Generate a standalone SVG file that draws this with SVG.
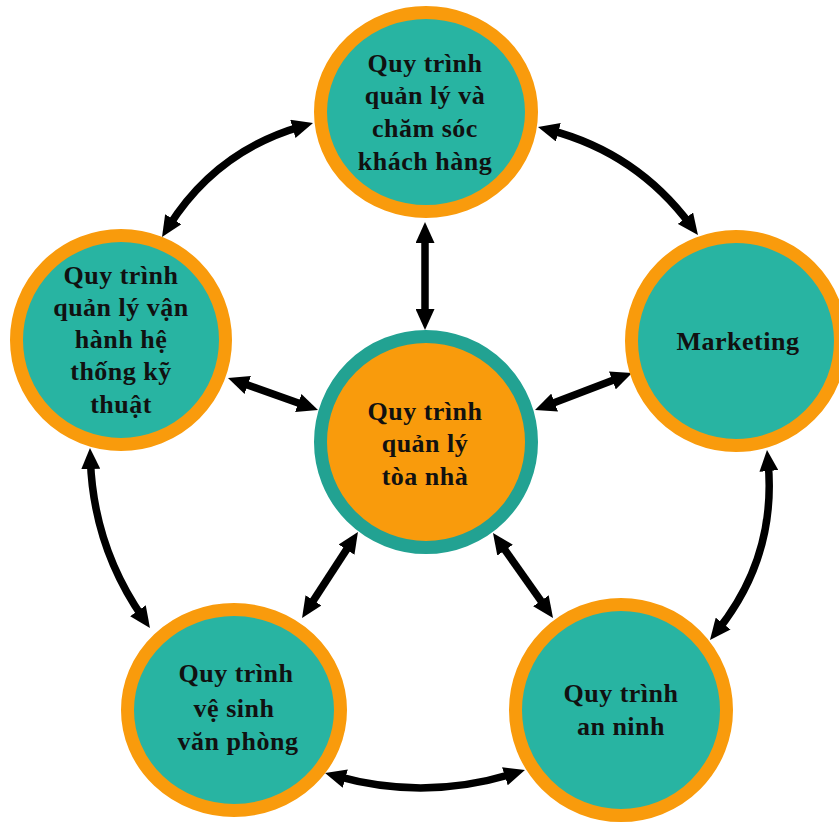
<svg xmlns="http://www.w3.org/2000/svg" width="839" height="822" viewBox="0 0 839 822">
<style>
.node{fill:#28b4a2;stroke:#f99b0c;stroke-width:13}
.hub{fill:#f99b0c;stroke:#22a292;stroke-width:13}
.lbl{font-family:"Liberation Serif","Times New Roman",serif;font-weight:bold;font-size:26px;letter-spacing:0.5px;fill:#111;text-anchor:middle}
.arr{fill:none;stroke:#000;stroke-width:7.5;marker-start:url(#ah);marker-end:url(#ah)}
</style>
<defs>
<marker id="ah" viewBox="0 0 21 19" markerWidth="21" markerHeight="19" refX="9" refY="9.5" orient="auto-start-reverse" markerUnits="userSpaceOnUse">
<path d="M0,0 L21,9.5 L0,19 z" fill="#000"/>
</marker>
</defs>
<rect width="839" height="822" fill="#fff"/>
<g id="connectors">
<path class="arr" d="M301.5,126.3 Q216,151 168.4,226.8"/>
<path class="arr" d="M549.6,130 Q637,153 690.8,225.4"/>
<path class="arr" d="M90.4,460 Q93.5,546.8 143.1,618.1"/>
<path class="arr" d="M768.1,462 Q776.8,556.5 717.5,630.6"/>
<path class="arr" d="M336.6,776.2 Q425,801 513.5,773.6"/>
<path class="arr" d="M425,234 L425,318"/>
<path class="arr" d="M239.3,382 L306.7,406"/>
<path class="arr" d="M620.8,377.3 L546.2,405.7"/>
<path class="arr" d="M351.4,542.1 L308.6,607.9"/>
<path class="arr" d="M499.9,542.8 L546.1,608.2"/>
</g>
<g id="node-top">
<ellipse class="node" cx="426" cy="112" rx="105.5" ry="99.5"/>
<text class="lbl" x="425" y="72">Quy trình</text>
<text class="lbl" x="425" y="104">quản lý và</text>
<text class="lbl" x="425" y="137">chăm sóc</text>
<text class="lbl" x="425" y="170">khách hàng</text>
</g>
<g id="node-left">
<circle class="node" cx="121" cy="340" r="104.5"/>
<text class="lbl" x="121" y="284">Quy trình</text>
<text class="lbl" x="121" y="316">quản lý vận</text>
<text class="lbl" x="121" y="348">hành hệ</text>
<text class="lbl" x="121" y="380">thống kỹ</text>
<text class="lbl" x="121" y="413">thuật</text>
</g>
<g id="node-right">
<circle class="node" cx="736" cy="341" r="104.5"/>
<text class="lbl" x="738" y="350">Marketing</text>
</g>
<g id="node-center">
<circle class="hub" cx="426" cy="442" r="105.5"/>
<text class="lbl" x="425" y="420">Quy trình</text>
<text class="lbl" x="425" y="452">quản lý</text>
<text class="lbl" x="425" y="485">tòa nhà</text>
</g>
<g id="node-bottom-left">
<ellipse class="node" cx="234" cy="710" rx="106.5" ry="100.5"/>
<text class="lbl" x="236" y="682">Quy trình</text>
<text class="lbl" x="234" y="717">vệ sinh</text>
<text class="lbl" x="238" y="750">văn phòng</text>
</g>
<g id="node-bottom-right">
<circle class="node" cx="621" cy="710" r="105.5"/>
<text class="lbl" x="621" y="702">Quy trình</text>
<text class="lbl" x="621" y="735">an ninh</text>
</g>
</svg>
